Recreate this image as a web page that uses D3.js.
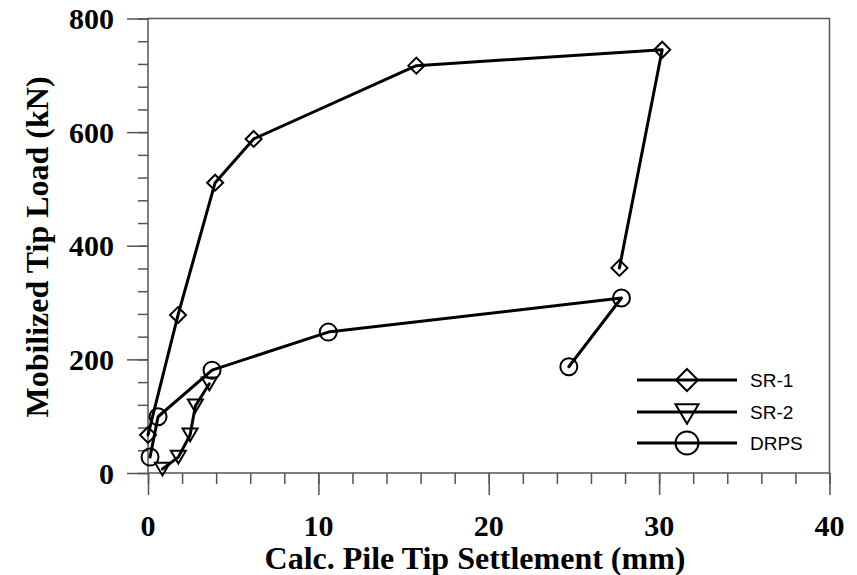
<!DOCTYPE html>
<html>
<head>
<meta charset="utf-8">
<script src="https://cdn.jsdelivr.net/npm/d3@7"></script>
<style>
  html, body { margin: 0; padding: 0; background: #fff; }
  svg { display: block; }
</style>
</head>
<body>
<svg id="chart" width="857" height="575"></svg>
<script>
// Settlement (mm) and mobilized tip load (kN) for each pile
const sr1Settle = [0.0, 1.76, 3.94, 6.2, 15.75, 30.18, 27.67];
const sr1Load   = [67, 278, 511, 588, 717, 745, 361];

const sr2Settle = [0.85, 1.78, 2.47, 2.78, 3.6];
const sr2Load   = [7, 28, 67, 118, 157];

const drpsSettle = [0.12, 0.59, 3.76, 10.58, 27.79, 24.7];
const drpsLoad   = [28, 99, 181, 248, 308, 187];

const xTicks = [0, 10, 20, 30, 40];
const yTicks = [0, 200, 400, 600, 800];
const seriesNames = ["SR-1", "SR-2", "DRPS"];

(function () {
  const svg = d3.select("#chart");
  const plotLeft = 148, plotRight = 829.5, plotTop = 18.5, plotBottom = 473;

  const x = d3.scaleLinear().domain([0, 40]).range([plotLeft, plotRight]);
  const y = d3.scaleLinear().domain([0, 800]).range([plotBottom, plotTop]);

  const axisColor = "#555";

  // frame
  svg.append("rect")
    .attr("x", plotLeft).attr("y", plotTop)
    .attr("width", plotRight - plotLeft).attr("height", plotBottom - plotTop)
    .attr("fill", "none").attr("stroke", axisColor).attr("stroke-width", 1.5);

  // x ticks: minor every 2, major every 10
  const gx = svg.append("g").attr("transform", `translate(0,${plotBottom})`);
  gx.call(d3.axisBottom(x).tickValues(d3.range(0, 41, 2)).tickSize(11).tickFormat(""))
    .call(g => g.select(".domain").remove());
  gx.append("g").call(d3.axisBottom(x).tickValues(xTicks).tickSize(22).tickFormat(""))
    .call(g => g.select(".domain").remove());
  gx.selectAll("line").attr("stroke", axisColor).attr("stroke-width", 1.5);

  // y ticks: minor every 40, major every 200
  const gy = svg.append("g").attr("transform", `translate(${plotLeft},0)`);
  gy.call(d3.axisLeft(y).tickValues(d3.range(0, 801, 40)).tickSize(10).tickFormat(""))
    .call(g => g.select(".domain").remove());
  gy.append("g").call(d3.axisLeft(y).tickValues(yTicks).tickSize(21).tickFormat(""))
    .call(g => g.select(".domain").remove());
  gy.selectAll("line").attr("stroke", axisColor).attr("stroke-width", 1.5);

  const serif = "'Liberation Serif', 'Times New Roman', serif";

  svg.append("g").selectAll("text").data(xTicks).join("text")
    .attr("x", d => x(d)).attr("y", 536)
    .attr("text-anchor", "middle")
    .attr("font-family", serif).attr("font-weight", "bold").attr("font-size", 30)
    .text(d => d);

  svg.append("g").selectAll("text").data(yTicks).join("text")
    .attr("x", 114).attr("y", d => y(d) + 10.5)
    .attr("text-anchor", "end")
    .attr("font-family", serif).attr("font-weight", "bold").attr("font-size", 30)
    .text(d => d);

  svg.append("text")
    .attr("x", 475).attr("y", 569)
    .attr("text-anchor", "middle")
    .attr("font-family", serif).attr("font-weight", "bold").attr("font-size", 32)
    .text("Calc. Pile Tip Settlement (mm)");

  svg.append("text")
    .attr("transform", "translate(48,247) rotate(-90)")
    .attr("text-anchor", "middle")
    .attr("font-family", serif).attr("font-weight", "bold").attr("font-size", 32)
    .text("Mobilized Tip Load (kN)");

  const series = [
    { name: seriesNames[0], xs: sr1Settle, ys: sr1Load, marker: "diamond" },
    { name: seriesNames[1], xs: sr2Settle, ys: sr2Load, marker: "tri" },
    { name: seriesNames[2], xs: drpsSettle, ys: drpsLoad, marker: "circle" }
  ];

  const line = d3.line().x(d => x(d[0])).y(d => y(d[1]));

  function drawMarker(g, type, cx, cy, s) {
    if (type === "circle") {
      g.append("circle").attr("cx", cx).attr("cy", cy).attr("r", s)
        .attr("fill", "none").attr("stroke", "#000").attr("stroke-width", 2);
    } else if (type === "tri") {
      const h = s * 1.7, w = s;
      g.append("path")
        .attr("d", `M${cx - w},${cy - h / 2}L${cx + w},${cy - h / 2}L${cx},${cy + h / 2}Z`)
        .attr("fill", "none").attr("stroke", "#000").attr("stroke-width", 2);
    } else {
      g.append("path")
        .attr("d", `M${cx},${cy - s}L${cx + s},${cy}L${cx},${cy + s}L${cx - s},${cy}Z`)
        .attr("fill", "none").attr("stroke", "#000").attr("stroke-width", 2);
    }
  }

  const plot = svg.append("g");
  series.forEach(s => {
    const pts = s.xs.map((v, i) => [v, s.ys[i]]);
    plot.append("path").datum(pts).attr("d", line)
      .attr("fill", "none").attr("stroke", "#000").attr("stroke-width", 3)
      .attr("stroke-linejoin", "round").attr("stroke-linecap", "round");
  });
  const markerSize = { circle: 8.5, tri: 7.5, diamond: 8 };
  series.forEach(s => {
    s.xs.forEach((v, i) => drawMarker(plot, s.marker, x(v), y(s.ys[i]), markerSize[s.marker]));
  });

  // legend
  const legend = svg.append("g");
  const legendY = [380, 412, 443];
  const legendSize = { circle: 11.5, tri: 11.5, diamond: 11 };
  series.forEach((s, i) => {
    legend.append("line").attr("x1", 637).attr("x2", 737)
      .attr("y1", legendY[i]).attr("y2", legendY[i])
      .attr("stroke", "#000").attr("stroke-width", 3);
    const cy = s.marker === "tri" ? legendY[i] + 2 : legendY[i];
    drawMarker(legend, s.marker, 687, cy, legendSize[s.marker]);
    legend.append("text").attr("x", 750).attr("y", legendY[i] + 7)
      .attr("font-family", "'Liberation Sans', Arial, sans-serif").attr("font-size", 19)
      .text(s.name);
  });
})();
</script>
</body>
</html>
